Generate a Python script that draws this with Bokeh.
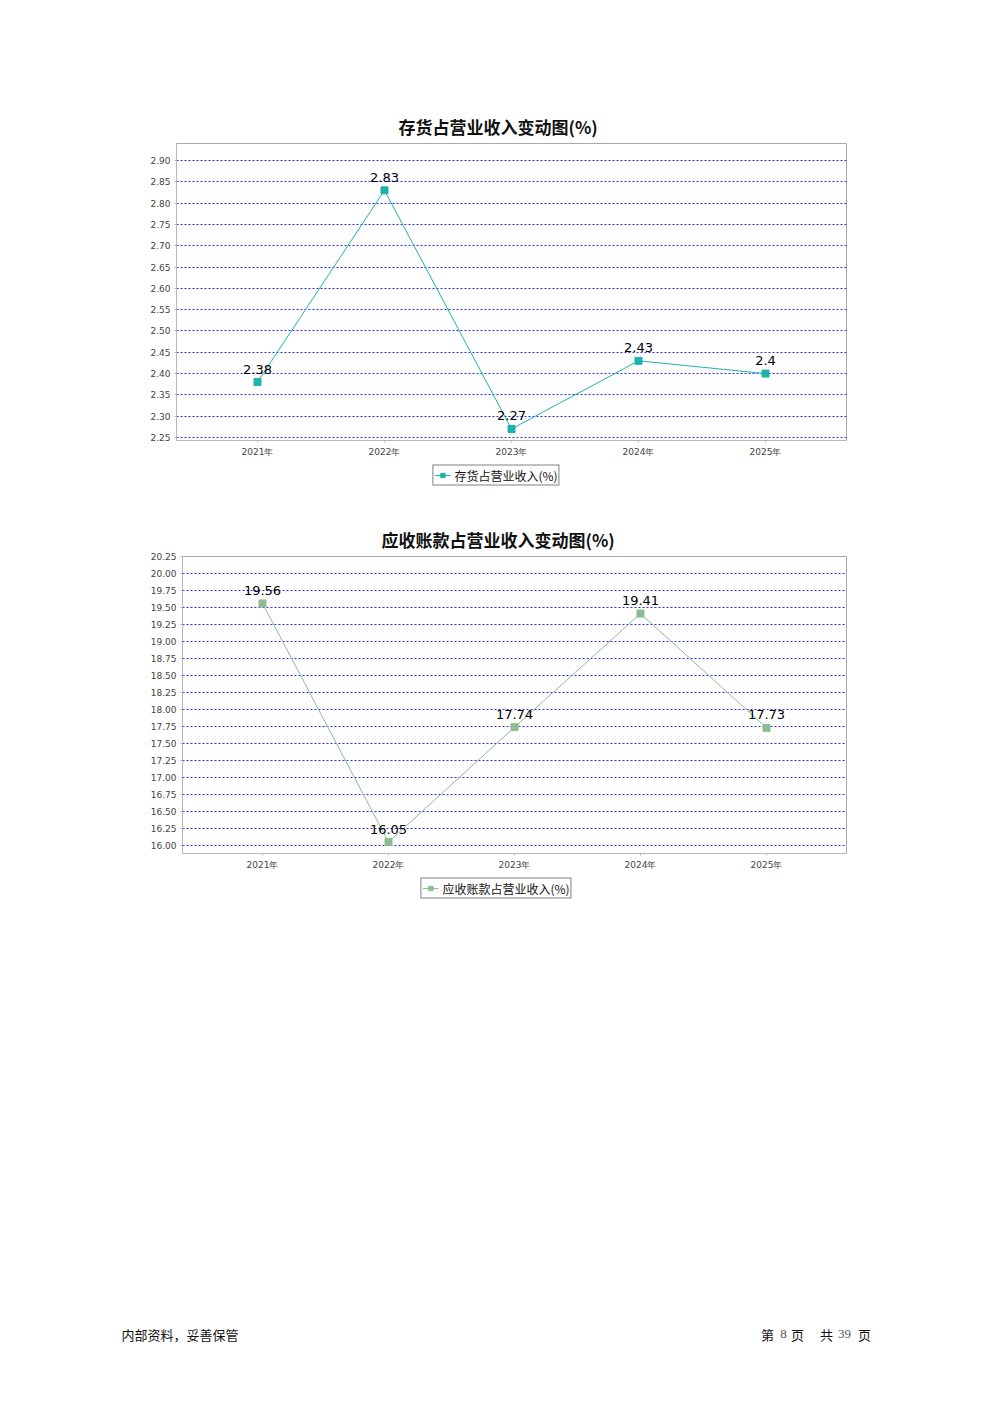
from bokeh.plotting import figure
from bokeh.models import (ColumnDataSource, FactorRange, Range1d, FixedTicker, PrintfTickFormatter,
                          Legend, LegendItem, Label)
from bokeh.core.properties import value
from bokeh.embed import file_html
from bokeh.resources import INLINE

years = ["2021年", "2022年", "2023年", "2024年", "2025年"]

inv_values = [2.38, 2.83, 2.27, 2.43, 2.40]
inv_labels = ["2.38", "2.83", "2.27", "2.43", "2.4"]
inv_ticks = [2.25, 2.30, 2.35, 2.40, 2.45, 2.50, 2.55, 2.60, 2.65, 2.70, 2.75, 2.80, 2.85, 2.90]

ar_values = [19.56, 16.05, 17.74, 19.41, 17.73]
ar_labels = ["19.56", "16.05", "17.74", "19.41", "17.73"]
ar_ticks = [16.00, 16.25, 16.50, 16.75, 17.00, 17.25, 17.50, 17.75, 18.00, 18.25, 18.50, 18.75,
            19.00, 19.25, 19.50, 19.75, 20.00, 20.25]

CJK = "Noto Sans CJK SC"
TICKF = "DejaVu Sans"
NAN = float("nan")


def blank(height):
    f = figure(width=992, height=height, output_backend="svg", toolbar_location=None,
               x_range=Range1d(0, 992), y_range=Range1d(0, height),
               min_border_left=0, min_border_right=0, min_border_top=0, min_border_bottom=0)
    f.axis.visible = False
    f.grid.visible = False
    f.outline_line_color = None
    f.background_fill_color = "white"
    f.border_fill_color = "white"
    return f


def make_chart(title, vals, labels, ticks, color, y_start, y_end, height,
               border_top, border_bottom, border_left, border_right, pad, title_offset):
    p = figure(width=992, height=height, output_backend="svg", toolbar_location=None,
               x_range=FactorRange(*years, range_padding=pad),
               y_range=Range1d(y_start, y_end),
               min_border_top=border_top, min_border_bottom=border_bottom,
               min_border_left=border_left, min_border_right=border_right)
    p.title.text = title
    p.title.align = "left"
    p.title.text_font = CJK
    p.title.text_font_style = "bold"
    p.title.text_font_size = "17px"
    p.title.text_color = "#111111"
    p.title.offset = title_offset

    src = ColumnDataSource(dict(x=years, y=vals, label=labels))
    p.line("x", "y", source=src, line_color=color, line_width=1)
    p.scatter("x", "y", source=src, marker="square", size=7, fill_color=color, line_color=color)
    p.text("x", "y", text="label", source=src, text_align="center", text_baseline="alphabetic",
           y_offset=-13, text_font=value(TICKF), text_font_size="13px", text_color="black")

    p.yaxis.ticker = FixedTicker(ticks=ticks)
    p.yaxis.formatter = PrintfTickFormatter(format="%.2f")
    for ax in (p.xaxis, p.yaxis):
        ax.major_label_text_font = TICKF
        ax.major_label_text_font_size = "9px"
        ax.major_label_text_color = "#444444"
        ax.axis_line_color = "#b8b8b8"
        ax.major_tick_line_color = "#b8b8b8"
        ax.major_tick_out = 2
        ax.major_tick_in = 0
        ax.minor_tick_line_color = None
    p.yaxis.major_label_standoff = 4
    p.xaxis.major_label_standoff = 4

    p.xgrid.grid_line_color = None
    p.ygrid.grid_line_color = "#2b2bff"
    p.ygrid.grid_line_dash = "2 2"
    p.ygrid.grid_line_width = 1

    p.outline_line_color = "#a8a8a8"
    p.outline_line_width = 1
    p.background_fill_color = "white"
    p.border_fill_color = "white"
    return p


def make_legend(series_name, color, height):
    f = blank(height)
    proxy = ColumnDataSource(dict(x=[NAN], y=[NAN]))
    lr = f.line("x", "y", source=proxy, line_color=color, line_width=1)
    sr = f.scatter("x", "y", source=proxy, marker="square", size=6, fill_color=color,
                   line_color=color)
    legend = Legend(items=[LegendItem(label=series_name, renderers=[lr, sr])],
                    location="center", orientation="horizontal",
                    border_line_color="black", border_line_width=1,
                    padding=1, margin=0, spacing=0,
                    glyph_width=16, glyph_height=11, label_standoff=4,
                    label_text_font=CJK, label_text_font_size="12px",
                    label_text_color="#111111", label_height=11,
                    background_fill_color="white", background_fill_alpha=1)
    f.add_layout(legend)
    return f


p1 = make_chart("存货占营业收入变动图(%)", inv_values, inv_labels, inv_ticks,
                "#20b2aa", 2.2430, 2.9399, 462, 143, 22, 176, 146, 0.0551, 222)
l1 = make_legend("存货占营业收入(%)", "#20b2aa", 25)
p2 = make_chart("应收账款占营业收入变动图(%)", ar_values, ar_labels, ar_ticks,
                "#8fbc8f", 15.882, 20.25, 388, 69, 22, 182, 146, 0.054, 199)
l2 = make_legend("应收账款占营业收入(%)", "#8fbc8f", 25)

footer = blank(448)
footer_left = "内部资料，妥善保管"
footer_right = [("第", 767, CJK, "#111111"), ("8", 783, "Liberation Serif", "#555555"),
                ("页", 797, CJK, "#111111"), ("共", 826, CJK, "#111111"),
                ("39", 844, "Liberation Serif", "#555555"), ("页", 864, CJK, "#111111")]
footer.add_layout(Label(x=121, y=14.5, text=footer_left, text_font=CJK, text_font_size="13px",
                        text_align="left", text_baseline="middle", text_color="#111111"))
for txt, xpos, fnt, col in footer_right:
    footer.add_layout(Label(x=xpos, y=14.5, text=txt, text_font=fnt, text_font_size="13px",
                            text_align="center", text_baseline="middle", text_color=col))

open("out.html", "w").write(file_html([p1, l1, p2, l2, footer], INLINE))
